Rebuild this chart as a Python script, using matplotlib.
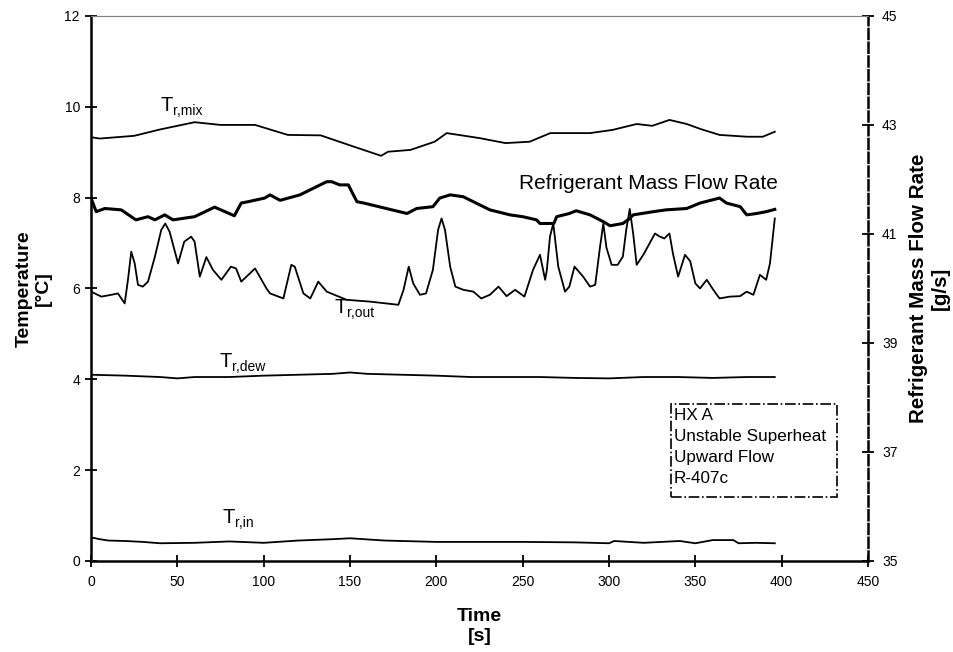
import matplotlib.pyplot as plt
from matplotlib.patches import Rectangle

plt.rcParams['font.family'] = ['Liberation Sans', 'DejaVu Sans']

# T_r,mix (left axis, deg C)
t_mix = [0, 5, 15, 25, 40, 60, 75, 95, 114, 133, 150, 168, 172, 185, 199,
         206, 225, 240, 254, 266, 289, 302, 316, 325, 335, 345, 353, 364, 380, 389, 396]
T_mix = [9.33, 9.3, 9.33, 9.36, 9.5, 9.66, 9.6, 9.6, 9.38, 9.37, 9.15, 8.92, 9.01, 9.05, 9.23,
         9.42, 9.31, 9.2, 9.23, 9.42, 9.42, 9.49, 9.62, 9.58, 9.71, 9.62, 9.51, 9.38, 9.34, 9.34, 9.45]

# refrigerant mass flow rate, read in left-axis units then scaled to g/s
t_m = [0, 3, 8, 17.5, 26, 33, 37, 42.7, 47.5, 60, 71.6, 83, 87, 91, 100.6, 103.7,
       109.5, 121, 136.5, 139.4, 144, 149, 154, 158, 171, 183, 188.6, 198, 202, 208,
       215.5, 223, 231, 242.6, 250, 258, 260, 268, 269.7, 277, 281, 289, 296.7, 300.6,
       308, 312, 314, 325.6, 333, 345, 352.7, 364, 368, 376, 379.7, 385.5, 391, 396]
m_left = [7.99, 7.69, 7.76, 7.73, 7.51, 7.58, 7.51, 7.62, 7.51, 7.58, 7.79, 7.6, 7.88, 7.91, 7.99, 8.06,
          7.94, 8.06, 8.35, 8.35, 8.28, 8.28, 7.91, 7.88, 7.76, 7.65, 7.76, 7.8, 7.99, 8.06,
          8.02, 7.88, 7.73, 7.62, 7.58, 7.51, 7.43, 7.43, 7.58, 7.65, 7.71, 7.62, 7.47, 7.38,
          7.43, 7.54, 7.62, 7.69, 7.73, 7.76, 7.88, 7.99, 7.88, 7.8, 7.62, 7.65, 7.69, 7.74]
m_flow = [35 + v * 10 / 12 for v in m_left]

# T_r,out
t_out = [0, 6, 11.8, 15.6, 19.5, 21.4, 23.3, 25.3, 27.2, 30, 33, 37, 40.7, 43, 45.5, 50.4,
         54, 58, 60, 63, 66.8, 70.6, 75.5, 81, 84, 87, 95, 101.6, 103.7, 111.4, 116, 118,
         123, 127, 131.6, 136.5, 148, 161.6, 171, 178, 181, 184, 186.6, 190.5, 194, 198, 201,
         203, 205, 208, 211, 215.6, 221.4, 226, 231, 236, 240.7, 245.6, 251, 256, 260, 263,
         264, 265.8, 267.7, 270.6, 274.5, 277, 280, 285, 289, 292, 294.8, 296.7, 298.5, 301.5,
         305, 308, 310, 312, 314, 316, 320, 326.6, 329, 332, 335, 337, 340, 344, 347, 350,
         352.7, 356.6, 360.4, 364, 370, 375.9, 379.7, 383.6, 387.4, 391, 393.2, 396]
T_out = [5.93, 5.82, 5.86, 5.89, 5.67, 6.19, 6.81, 6.55, 6.08, 6.04, 6.15, 6.7, 7.29, 7.43, 7.25, 6.55,
         7.03, 7.14, 7.03, 6.26, 6.69, 6.41, 6.19, 6.48, 6.44, 6.15, 6.44, 6.0, 5.89, 5.78, 6.52, 6.48,
         5.89, 5.78, 6.15, 5.93, 5.75, 5.71, 5.67, 5.64, 5.97, 6.48, 6.11, 5.86, 5.89, 6.41, 7.29,
         7.54, 7.29, 6.48, 6.04, 5.97, 5.93, 5.78, 5.86, 6.04, 5.83, 5.97, 5.82, 6.41, 6.74, 6.19,
         6.41, 7.14, 7.43, 6.48, 5.93, 6.04, 6.48, 6.26, 6.04, 6.08, 6.92, 7.43, 6.9, 6.52,
         6.52, 6.7, 7.3, 7.75, 7.2, 6.52, 6.75, 7.21, 7.15, 7.1, 7.21, 6.77, 6.26, 6.74, 6.6, 6.11,
         6.0, 6.19, 5.97, 5.78, 5.82, 5.83, 5.93, 5.86, 6.3, 6.19, 6.55, 7.54]

# T_r,dew
t_dew = [0, 20, 40, 50, 60, 80, 100, 120, 140, 150, 160, 180, 200, 220, 240, 260,
         280, 300, 320, 340, 360, 380, 396]
T_dew = [4.1, 4.08, 4.05, 4.02, 4.05, 4.05, 4.08, 4.1, 4.12, 4.15, 4.12, 4.1, 4.08, 4.05,
         4.05, 4.05, 4.03, 4.02, 4.05, 4.05, 4.03, 4.05, 4.05]

# T_r,in
t_in = [0, 5, 10, 20, 30, 40, 60, 80, 100, 120, 140, 150, 170, 200, 250, 280, 300,
        303, 320, 341, 350, 360, 372, 375, 385, 396]
T_in = [0.52, 0.48, 0.45, 0.44, 0.42, 0.39, 0.4, 0.43, 0.4, 0.45, 0.48, 0.5, 0.45, 0.42,
        0.42, 0.41, 0.39, 0.44, 0.4, 0.44, 0.39, 0.46, 0.46, 0.39, 0.4, 0.39]

info_lines = ['HX A', 'Unstable Superheat', 'Upward Flow', 'R-407c']

fig = plt.figure(figsize=(9.54, 6.52), dpi=100)
ax = fig.add_axes([0.0954, 0.1396, 0.8145, 0.836])
ax2 = ax.twinx()

ax.plot(t_mix, T_mix, color='black', lw=1.3)
ax.plot(t_out, T_out, color='black', lw=1.3)
ax.plot(t_dew, T_dew, color='black', lw=1.3)
ax.plot(t_in, T_in, color='black', lw=1.3)
ax2.plot(t_m, m_flow, color='black', lw=2.2)

ax.set_xlim(0, 450)
ax.set_ylim(0, 12)
ax2.set_ylim(35, 45)
ax.set_xticks(range(0, 451, 50))
ax.set_yticks(range(0, 13, 2))
ax2.set_yticks(range(35, 46, 2))

for a in (ax, ax2):
    a.tick_params(direction='inout', length=8, width=1.3, labelsize=10, colors='black')
    a.spines['top'].set_color('gray')
ax.spines['left'].set_linewidth(1.8)
ax.spines['bottom'].set_linewidth(1.8)
ax2.spines['left'].set_visible(False)
ax2.spines['bottom'].set_visible(False)
ax.spines['right'].set_visible(False)
ax2.spines['right'].set_linestyle((0, (4, 1.5)))
ax2.spines['right'].set_linewidth(1.8)
ax.tick_params(axis='y', pad=4)
ax.tick_params(axis='x', pad=6)
ax2.tick_params(axis='y', pad=6)

ax.set_xlabel('Time\n[s]', fontsize=14, fontweight='bold', labelpad=14)
ax.set_ylabel('Temperature\n[°C]', fontsize=14, fontweight='bold', labelpad=9)
ax2.set_ylabel('Refrigerant Mass Flow Rate\n[g/s]', fontsize=14.8, fontweight='bold', labelpad=8)


def sublabel(x, y, sub):
    ax.text(x, y, 'T', fontsize=14.5)
    ax.annotate(sub, xy=(x, y), xytext=(8.6, -3), textcoords='offset points', fontsize=10)


sublabel(40.5, 9.91, 'r,mix')
sublabel(141.3, 5.46, 'r,out')
sublabel(74.7, 4.27, 'r,dew')
sublabel(76.4, 0.84, 'r,in')
ax.text(248, 8.2, 'Refrigerant Mass Flow Rate', fontsize=15)

ax.add_patch(Rectangle((335.6, 1.41), 96.5, 2.04, fill=False, edgecolor='black',
                       linestyle='-.', linewidth=1.2, clip_on=False))
ax.text(337.6, 3.36, '\n'.join(info_lines), fontsize=12.3, va='top', ha='left', linespacing=1.48)

fig.savefig('out.png', dpi=100)
